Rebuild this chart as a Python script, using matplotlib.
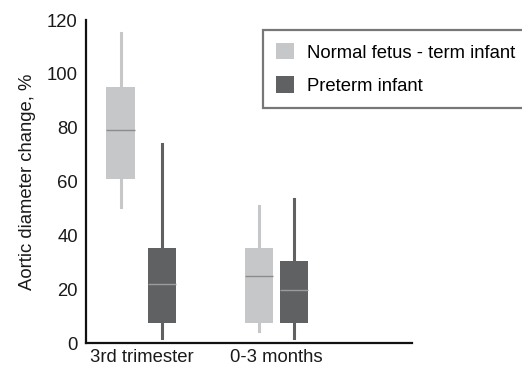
import matplotlib
matplotlib.use("Agg")
import matplotlib.pyplot as plt
from matplotlib.patches import Patch

plt.rcParams['font.family'] = ['Liberation Sans', 'DejaVu Sans']

groups = ["3rd trimester", "0-3 months"]
series = ["Normal fetus - term infant", "Preterm infant"]
colors = ["#c6c7c9", "#606163"]
median_colors = ["#8c8c8c", "#9c9c9c"]

# box stats per series, one value per group
normal_whislo = [50.5, 4.5]
normal_q1 = [61, 7.5]
normal_med = [79, 25]
normal_q3 = [95, 35.5]
normal_whishi = [115, 51]

preterm_whislo = [2, 2]
preterm_q1 = [7.5, 7.5]
preterm_med = [22, 19.7]
preterm_q3 = [35.5, 30.5]
preterm_whishi = [74, 53.5]

fs = 13.3

fig = plt.figure(figsize=(5.22, 3.71), dpi=100)
ax = fig.add_axes([0.165, 0.075, 0.625, 0.871])

offsets = [[-0.16, 0.15], [-0.13, 0.13]]
data = [
    (normal_whislo, normal_q1, normal_med, normal_q3, normal_whishi),
    (preterm_whislo, preterm_q1, preterm_med, preterm_q3, preterm_whishi),
]
for s, (lo, q1, med, q3, hi) in enumerate(data):
    stats = []
    pos = []
    for g in range(len(groups)):
        stats.append(dict(whislo=lo[g], q1=q1[g], med=med[g], q3=q3[g], whishi=hi[g], fliers=[]))
        pos.append(g + 1 + offsets[g][s])
    ax.bxp(stats, positions=pos, widths=0.21, patch_artist=True, showcaps=False,
           showfliers=False,
           boxprops=dict(facecolor=colors[s], edgecolor="none", linewidth=0),
           whiskerprops=dict(color=colors[s], linewidth=2.2),
           medianprops=dict(color=median_colors[s], linewidth=1.0),
           zorder=2)

ax.set_xlim(0.584, 3.007)
ax.set_ylim(0, 120)
ax.set_xticks([1, 2])
ax.set_xticklabels(groups, fontsize=fs)
ax.set_yticks([0, 20, 40, 60, 80, 100, 120])
ax.tick_params(axis='both', length=0, labelsize=fs, colors="#1a1a1a", pad=6)
ax.tick_params(axis='x', pad=4)
ax.set_ylabel("Aortic diameter change, %", fontsize=fs, color="#1a1a1a", labelpad=8)
for sp in ["top", "right"]:
    ax.spines[sp].set_visible(False)
for sp in ["left", "bottom"]:
    ax.spines[sp].set_linewidth(1.6)
    ax.spines[sp].set_color("#111111")

handles = [Patch(facecolor=c, edgecolor="none") for c in colors]
leg = fig.legend(handles, series, loc="upper left",
                 bbox_to_anchor=(263 / 522, (371 - 30) / 371),
                 bbox_transform=fig.transFigure,
                 fancybox=False, fontsize=fs, handlelength=1.0, handleheight=1.0,
                 labelspacing=0.8, borderpad=0.7, handletextpad=0.7, borderaxespad=0)
leg.get_frame().set_edgecolor("#777777")
leg.get_frame().set_linewidth(1.6)
leg.get_frame().set_alpha(1)

fig.savefig("out.png", dpi=100)
